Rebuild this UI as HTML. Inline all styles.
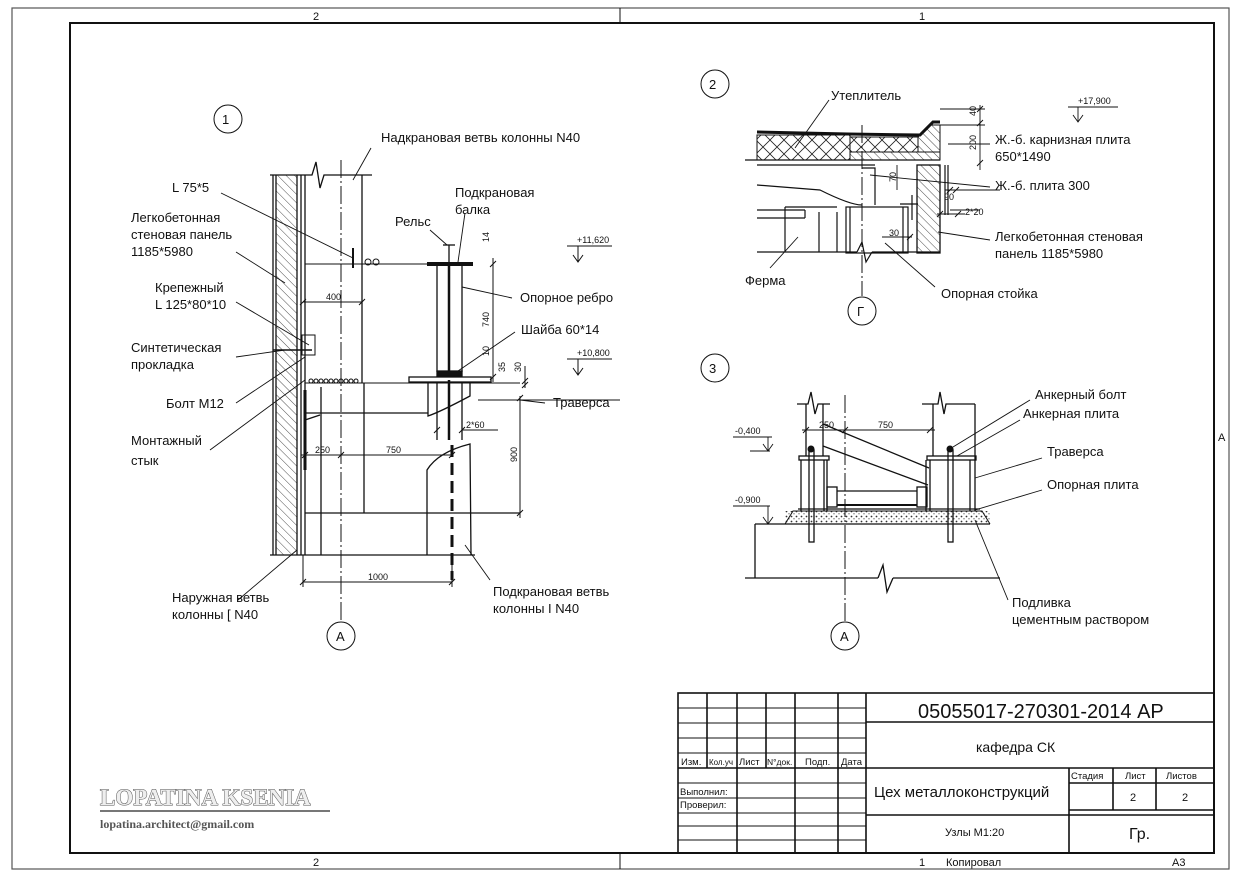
<!DOCTYPE html>
<html><head><meta charset="utf-8"><style>
html,body{margin:0;padding:0;background:#fff;}
svg{display:block;}
text{font-family:"Liberation Sans","DejaVu Sans",sans-serif;fill:#111;}
</style></head><body>
<svg width="1240" height="877" viewBox="0 0 1240 877" xmlns="http://www.w3.org/2000/svg">
<defs>
<pattern id="h" width="6" height="6" patternUnits="userSpaceOnUse" patternTransform="rotate(-45)"><line x1="0" y1="0" x2="0" y2="6" stroke="#222" stroke-width="0.8"/></pattern>
<pattern id="x" width="14" height="14" patternUnits="userSpaceOnUse"><path d="M0 0L14 14M14 0L0 14" stroke="#222" stroke-width="0.8"/></pattern>
<pattern id="d" width="5" height="5" patternUnits="userSpaceOnUse"><circle cx="1.5" cy="1.5" r="0.9" fill="#333"/><circle cx="4" cy="3.8" r="0.6" fill="#333"/></pattern>
</defs>
<g fill="none" stroke="#111">
<rect x="12" y="8" width="1217" height="861" stroke-width="1.2" stroke="#555"/>
<rect x="70" y="23" width="1144" height="830" stroke-width="2"/>
<line x1="620" y1="8" x2="620" y2="23" stroke-width="1"/>
<line x1="620" y1="853" x2="620" y2="869" stroke-width="1"/>

<g stroke-width="1.6">
<rect x="678" y="693" width="536" height="160"/>
<line x1="866" y1="693" x2="866" y2="853"/>
<line x1="707" y1="693" x2="707" y2="768"/><line x1="737" y1="693" x2="737" y2="853"/>
<line x1="766" y1="693" x2="766" y2="768"/><line x1="795" y1="693" x2="795" y2="853"/>
<line x1="838" y1="693" x2="838" y2="853"/>
<line x1="866" y1="722" x2="1214" y2="722"/>
<line x1="866" y1="768" x2="1214" y2="768"/>
<line x1="866" y1="815" x2="1214" y2="815"/>
<line x1="1069" y1="768" x2="1069" y2="853"/>
<line x1="1113" y1="768" x2="1113" y2="810"/><line x1="1156" y1="768" x2="1156" y2="810"/>
<line x1="1069" y1="783" x2="1214" y2="783"/>
<line x1="1069" y1="810" x2="1214" y2="810"/>
</g>
<g stroke-width="1">
<line x1="678" y1="708" x2="866" y2="708"/><line x1="678" y1="723" x2="866" y2="723"/>
<line x1="678" y1="738" x2="866" y2="738"/><line x1="678" y1="753" x2="866" y2="753"/>
<line x1="678" y1="768" x2="866" y2="768" stroke-width="1.6"/><line x1="678" y1="783" x2="866" y2="783"/>
<line x1="678" y1="798" x2="866" y2="798"/><line x1="678" y1="813" x2="866" y2="813"/>
<line x1="678" y1="826" x2="866" y2="826"/><line x1="678" y1="840" x2="866" y2="840"/>
</g>

<circle cx="228" cy="119" r="14" stroke-width="1"/>
<rect x="276" y="175" width="21" height="380" fill="url(#h)" stroke="none"/>
<g stroke-width="1.3">
<line x1="273" y1="175" x2="273" y2="555"/><line x1="276" y1="175" x2="276" y2="555"/>
<line x1="297" y1="175" x2="297" y2="555"/><line x1="301" y1="175" x2="301" y2="555"/>
<line x1="305" y1="175" x2="305" y2="555"/>
<line x1="270" y1="175" x2="301" y2="175"/>
<line x1="270" y1="555" x2="475" y2="555"/>
<polyline points="301,175 312,175 316,162 320,188 324,175 372,175"/>
<line x1="362" y1="175" x2="362" y2="383"/>
<line x1="305" y1="264" x2="430" y2="264" stroke-width="1"/>
<rect x="427" y="262" width="46" height="4" fill="#111" stroke="none"/>
<line x1="437" y1="266" x2="437" y2="372"/><line x1="462" y1="266" x2="462" y2="372"/>
<line x1="449" y1="266" x2="449" y2="372" stroke-width="2.5"/>
<line x1="449" y1="380" x2="449" y2="440" stroke-width="2.5"/>
<line x1="449" y1="245" x2="449" y2="262"/><line x1="443" y1="245" x2="455" y2="245"/>
<rect x="409" y="377" width="82" height="5"/>
<rect x="437" y="371" width="25" height="5" fill="#111"/>
<line x1="305" y1="383" x2="520" y2="383" stroke-width="1"/>
<line x1="305" y1="413" x2="428" y2="413"/>
<line x1="305" y1="513" x2="520" y2="513"/>
<line x1="321" y1="387" x2="321" y2="555"/>
<line x1="364" y1="383" x2="364" y2="513"/>
<line x1="437" y1="383" x2="437" y2="440"/><line x1="462" y1="383" x2="462" y2="440"/>
<path d="M428 383 L428 416 Q440 412 470 396 L470 383"/>
<path d="M427 555 L427 470 Q438 452 470 444 L471 555"/>
<line x1="305" y1="390" x2="305" y2="470" stroke-width="3"/>
<path d="M305 420 L320 415" />
</g>
<rect x="302" y="335" width="13" height="20" stroke-width="1"/>
<line x1="273" y1="350" x2="312" y2="350" stroke-width="1.5"/>
<g stroke-width="1" fill="none">
<circle cx="311" cy="381" r="2"/><circle cx="316" cy="381" r="2"/><circle cx="321" cy="381" r="2"/><circle cx="326" cy="381" r="2"/><circle cx="331" cy="381" r="2"/><circle cx="336" cy="381" r="2"/><circle cx="341" cy="381" r="2"/><circle cx="346" cy="381" r="2"/><circle cx="351" cy="381" r="2"/><circle cx="356" cy="381" r="2"/>
<circle cx="368" cy="262" r="3"/><circle cx="376" cy="262" r="3"/>
</g>
<line x1="353" y1="248" x2="353" y2="268" stroke-width="2"/>
<line x1="341" y1="160" x2="341" y2="622" stroke-width="1" stroke-dasharray="18,3,2,3"/>
<line x1="452" y1="445" x2="452" y2="580" stroke-width="3" stroke-dasharray="12,6"/>
<circle cx="341" cy="636" r="14" stroke-width="1"/>
<g stroke-width="1">
<line x1="303" y1="302" x2="362" y2="302"/><path d="M300 305l6-6M359 305l6-6"/>
<line x1="301" y1="455" x2="452" y2="455"/><path d="M302 458l6-6M338 458l6-6M449 458l6-6"/>
<line x1="303" y1="582" x2="452" y2="582"/><path d="M300 585l6-6M449 585l6-6"/>
<line x1="303" y1="555" x2="303" y2="587"/><line x1="452" y1="555" x2="452" y2="587"/>
<line x1="493" y1="258" x2="493" y2="382"/><path d="M490 267l6-6M490 380l6-6"/>
<line x1="462" y1="430" x2="498" y2="430"/><path d="M434 433l6-6M459 433l6-6"/>
<line x1="437" y1="420" x2="437" y2="436"/>
<line x1="520" y1="396" x2="520" y2="518"/><path d="M517 401l6-6M517 516l6-6"/>
<line x1="478" y1="400" x2="620" y2="400"/>
<line x1="525" y1="366" x2="525" y2="388"/>
<path d="M522 388l6-6M522 384l6-6"/>
</g>
<g stroke-width="0.9">
<line x1="371" y1="148" x2="353" y2="180"/>
<line x1="221" y1="193" x2="353" y2="258"/>
<line x1="236" y1="252" x2="285" y2="283"/>
<line x1="236" y1="302" x2="309" y2="345"/>
<line x1="236" y1="357" x2="285" y2="350"/>
<line x1="236" y1="403" x2="305" y2="357"/>
<line x1="210" y1="450" x2="305" y2="380"/>
<line x1="238" y1="600" x2="297" y2="550"/>
<line x1="490" y1="580" x2="465" y2="545"/>
<line x1="465" y1="213" x2="458" y2="262"/>
<line x1="430" y1="230" x2="447" y2="245"/>
<line x1="512" y1="298" x2="462" y2="287"/>
<line x1="515" y1="332" x2="458" y2="371"/>
<line x1="545" y1="403" x2="520" y2="400"/>
</g>
<g stroke-width="1">
<line x1="567" y1="246" x2="612" y2="246"/><line x1="578" y1="246" x2="578" y2="262"/><path d="M573 255l5 7 5-7"/>
<line x1="567" y1="359" x2="612" y2="359"/><line x1="578" y1="359" x2="578" y2="375"/><path d="M573 368l5 7 5-7"/>
</g>

<circle cx="715" cy="84" r="14" stroke-width="1"/>
<rect x="757" y="135" width="93" height="25" fill="url(#x)" stroke-width="1"/>
<rect x="850" y="137" width="68" height="15" fill="url(#x)" stroke-width="1"/>
<path d="M850 152 L940 152 L940 160 L850 160Z" fill="url(#h)" stroke-width="1"/>
<path d="M918 137 L930 125 L940 125 L940 152 L918 152Z" fill="url(#h)" stroke-width="1"/>
<path d="M757 132 L848 134 L920 135 L933 122 L940 122" stroke-width="3"/>
<line x1="745" y1="160" x2="940" y2="160" stroke-width="1.3"/>
<rect x="917" y="165" width="23" height="88" fill="url(#h)" stroke-width="1.3"/>
<g stroke-width="1.2">
<line x1="757" y1="165" x2="875" y2="165"/>
<path d="M757 185 L820 190 Q850 205 862 205"/>
<path d="M862 168 L875 168 L875 205"/>
<line x1="757" y1="252" x2="857" y2="252"/><line x1="872" y1="252" x2="940" y2="252"/>
<polyline points="857,252 862,242 866,262 872,252"/>
<rect x="846" y="207" width="62" height="46"/>
<line x1="850" y1="207" x2="850" y2="253"/><line x1="903" y1="207" x2="903" y2="253"/>
<line x1="785" y1="207" x2="837" y2="207"/><line x1="785" y1="207" x2="785" y2="252"/>
<line x1="819" y1="212" x2="819" y2="252"/><line x1="837" y1="212" x2="837" y2="252"/>
<line x1="757" y1="210" x2="805" y2="210"/><line x1="757" y1="218" x2="805" y2="218"/><line x1="805" y1="210" x2="805" y2="218"/>
<line x1="912" y1="195" x2="912" y2="220"/>
<line x1="900" y1="204" x2="918" y2="204"/>
<line x1="945" y1="165" x2="945" y2="215"/><line x1="948" y1="165" x2="948" y2="215"/>
</g>
<line x1="862" y1="125" x2="862" y2="296" stroke-width="1" stroke-dasharray="18,3,2,3"/>
<circle cx="862" cy="311" r="14" stroke-width="1"/>
<g stroke-width="0.9">
<line x1="980" y1="105" x2="980" y2="170"/><path d="M977 112l6-6M977 126l6-6M977 166l6-6"/>
<line x1="940" y1="125" x2="985" y2="125"/><line x1="940" y1="109" x2="985" y2="109"/>
<line x1="950" y1="210" x2="980" y2="210"/><path d="M947 193l6-6M953 193l6-6"/>
<line x1="945" y1="190" x2="1000" y2="190"/>
<line x1="937" y1="214" x2="965" y2="214"/><path d="M937 217l6-6M955 217l6-6"/>
<line x1="882" y1="237" x2="912" y2="237"/><path d="M907 240l6-6"/>
<line x1="897" y1="165" x2="897" y2="190"/>
<line x1="829" y1="100" x2="795" y2="148"/>
<line x1="990" y1="144" x2="948" y2="144"/>
<line x1="990" y1="187" x2="870" y2="175"/>
<line x1="990" y1="240" x2="938" y2="232"/>
<line x1="935" y1="287" x2="885" y2="243"/>
<line x1="770" y1="268" x2="798" y2="237"/>
<line x1="1068" y1="107" x2="1118" y2="107"/><line x1="1078" y1="107" x2="1078" y2="122"/><path d="M1073 115l5 7 5-7"/>
</g>

<circle cx="715" cy="368" r="14" stroke-width="1"/>
<rect x="785" y="511" width="205" height="12" fill="url(#d)" stroke="none"/>
<path d="M785 524 L793 511 L982 511 L990 524" stroke-width="1"/>
<g stroke-width="1.3">
<line x1="755" y1="524" x2="990" y2="524"/>
<line x1="755" y1="524" x2="755" y2="578"/>
<line x1="745" y1="578" x2="878" y2="578"/><polyline points="878,578 883,565 887,592 893,578"/><line x1="893" y1="578" x2="1000" y2="578"/>
<polyline points="797,404 808,404 811,392 815,414 818,404 830,404"/>
<polyline points="922,404 938,404 940,392 944,414 946,404 975,404"/>
<line x1="806" y1="404" x2="806" y2="456"/><line x1="823" y1="404" x2="823" y2="456"/>
<line x1="933" y1="404" x2="933" y2="456"/><line x1="975" y1="404" x2="975" y2="511"/>
<rect x="799" y="456" width="30" height="4"/>
<rect x="927" y="456" width="49" height="4"/>
<line x1="801" y1="460" x2="801" y2="511"/><line x1="824" y1="460" x2="824" y2="511"/><line x1="827" y1="460" x2="827" y2="511"/>
<line x1="930" y1="460" x2="930" y2="511"/><line x1="926" y1="460" x2="926" y2="511"/><line x1="970" y1="460" x2="970" y2="511"/>
<line x1="798" y1="509" x2="980" y2="509"/>
<line x1="823" y1="424" x2="929" y2="468"/><line x1="823" y1="446" x2="928" y2="485"/>
<rect x="827" y="487" width="10" height="20"/><rect x="917" y="487" width="10" height="20"/>
<line x1="837" y1="491" x2="917" y2="491"/><line x1="837" y1="505" x2="917" y2="505" stroke-width="2"/>
<rect x="809" y="450" width="5" height="92"/><rect x="948" y="450" width="5" height="92"/>
</g>
<circle cx="811" cy="449" r="3" fill="#111"/><circle cx="950" cy="449" r="3" fill="#111"/>
<line x1="845" y1="395" x2="845" y2="622" stroke-width="1" stroke-dasharray="18,3,2,3"/>
<circle cx="845" cy="636" r="14" stroke-width="1"/>
<g stroke-width="0.9">
<line x1="802" y1="430" x2="935" y2="430"/><path d="M803 433l6-6M842 433l6-6M927 433l6-6"/>
<line x1="733" y1="437" x2="772" y2="437"/><line x1="768" y1="437" x2="768" y2="451"/><line x1="750" y1="451" x2="770" y2="451"/><path d="M763 444l5 7 5-7"/>
<line x1="733" y1="506" x2="770" y2="506"/><line x1="768" y1="506" x2="768" y2="524"/><path d="M763 517l5 7 5-7"/>
<line x1="1030" y1="400" x2="953" y2="447"/>
<line x1="1020" y1="420" x2="957" y2="456"/>
<line x1="1042" y1="458" x2="975" y2="478"/>
<line x1="1042" y1="490" x2="975" y2="510"/>
<line x1="1008" y1="600" x2="975" y2="520"/>
</g>
</g>

<g font-size="13">
<text x="222" y="124" font-size="13">1</text>
<text x="336" y="641">А</text>
<text x="381" y="142">Надкрановая ветвь колонны N40</text>
<text x="172" y="192">L 75*5</text>
<text x="131" y="222">Легкобетонная</text>
<text x="131" y="239">стеновая панель</text>
<text x="131" y="256">1185*5980</text>
<text x="155" y="292">Крепежный</text>
<text x="155" y="309">L 125*80*10</text>
<text x="131" y="352">Синтетическая</text>
<text x="131" y="369">прокладка</text>
<text x="166" y="408">Болт М12</text>
<text x="131" y="445">Монтажный</text>
<text x="131" y="465">стык</text>
<text x="172" y="602">Наружная ветвь</text>
<text x="172" y="619">колонны [ N40</text>
<text x="493" y="596">Подкрановая ветвь</text>
<text x="493" y="613">колонны I N40</text>
<text x="455" y="197">Подкрановая</text>
<text x="455" y="214">балка</text>
<text x="395" y="226">Рельс</text>
<text x="520" y="302">Опорное ребро</text>
<text x="521" y="334">Шайба 60*14</text>
<text x="553" y="407">Траверса</text>
<text x="709" y="89">2</text>
<text x="831" y="100">Утеплитель</text>
<text x="995" y="144">Ж.-б. карнизная плита</text>
<text x="995" y="161">650*1490</text>
<text x="995" y="190">Ж.-б. плита 300</text>
<text x="995" y="241">Легкобетонная стеновая</text>
<text x="995" y="258">панель 1185*5980</text>
<text x="745" y="285">Ферма</text>
<text x="941" y="298">Опорная стойка</text>
<text x="857" y="316">Г</text>
<text x="709" y="373">3</text>
<text x="840" y="641">А</text>
<text x="1035" y="399">Анкерный болт</text>
<text x="1023" y="418">Анкерная плита</text>
<text x="1047" y="456">Траверса</text>
<text x="1047" y="489">Опорная плита</text>
<text x="1012" y="607">Подливка</text>
<text x="1012" y="624">цементным раствором</text>
</g>
<g font-size="9">
<text x="577" y="243">+11,620</text>
<text x="577" y="356">+10,800</text>
<text x="1078" y="104">+17,900</text>
<text x="735" y="434">-0,400</text>
<text x="735" y="503">-0,900</text>
<text x="326" y="300">400</text>
<text x="315" y="453">250</text>
<text x="386" y="453">750</text>
<text x="368" y="580">1000</text>
<text x="466" y="428">2*60</text>
<text x="819" y="428">250</text>
<text x="878" y="428">750</text>
<text x="965" y="215">2*20</text>
<text x="889" y="236">30</text>
<text transform="translate(489,327) rotate(-90)">740</text>
<text transform="translate(489,242) rotate(-90)">14</text>
<text transform="translate(489,356) rotate(-90)">10</text>
<text transform="translate(505,372) rotate(-90)">35</text>
<text transform="translate(521,372) rotate(-90)">30</text>
<text transform="translate(517,462) rotate(-90)">900</text>
<text transform="translate(976,116) rotate(-90)">40</text>
<text transform="translate(976,150) rotate(-90)">200</text>
<text transform="translate(896,182) rotate(-90)">70</text>
<text x="944" y="200">90</text>
</g>
<g font-size="11">
<text x="313" y="20">2</text><text x="919" y="20">1</text>
<text x="313" y="866">2</text><text x="919" y="866">1</text>
<text x="946" y="866">Копировал</text><text x="1172" y="866">А3</text>
<text x="1218" y="441">А</text>
</g>
<text x="918" y="718" font-size="20">05055017-270301-2014 АР</text>
<text x="976" y="752" font-size="14">кафедра СК</text>
<text x="874" y="797" font-size="15">Цех металлоконструкций</text>
<text x="945" y="836" font-size="11">Узлы М1:20</text>
<text x="1129" y="839" font-size="16">Гр.</text>
<g font-size="9.5">
<text x="681" y="765">Изм.</text><text x="709" y="765" font-size="8">Кол.уч</text><text x="739" y="765">Лист</text><text x="767" y="765" font-size="8.5">N°док.</text><text x="805" y="765">Подп.</text><text x="841" y="765">Дата</text>
<text x="680" y="795">Выполнил:</text><text x="680" y="808">Проверил:</text>
<text x="1071" y="779">Стадия</text><text x="1125" y="779">Лист</text><text x="1166" y="779">Листов</text>
<text x="1130" y="801" font-size="11">2</text><text x="1182" y="801" font-size="11">2</text>
</g>
<text x="100" y="805" style="font-family:'Liberation Serif',serif;font-size:23px;font-weight:bold;fill:#eee;stroke:#555;stroke-width:1;paint-order:stroke">LOPATINA KSENIA</text>
<line x1="100" y1="811" x2="330" y2="811" stroke="#777" stroke-width="2"/>
<text x="100" y="828" style="font-family:'Liberation Serif',serif;font-size:12px;font-weight:bold;fill:#555">lopatina.architect@gmail.com</text>
</svg>
</body></html>
